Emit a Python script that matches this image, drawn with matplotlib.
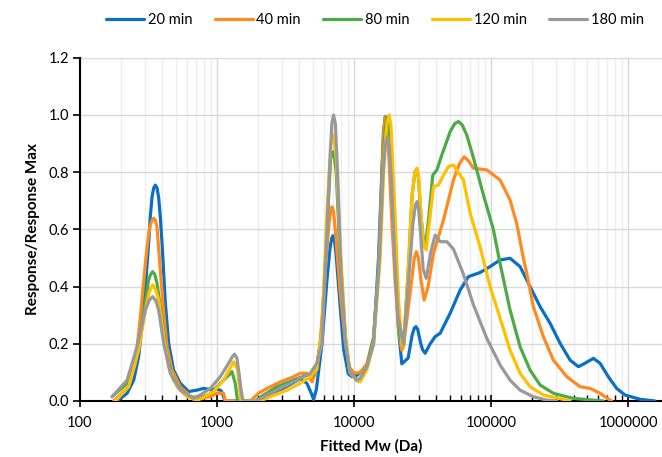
import numpy as np
import matplotlib
matplotlib.use("Agg")
import matplotlib.pyplot as plt
from matplotlib.ticker import LogLocator, FixedLocator, NullFormatter, FixedFormatter

# ---- data: log10(Fitted Mw, Da) and normalised response ----
series_names = ["20 min", "40 min", "80 min", "120 min", "180 min"]
series_colors = ["#0B6FC6", "#FF8A1F", "#4EA947", "#FFC000", "#999999"]

logmw_20 = [2.271, 2.344, 2.392, 2.428, 2.465, 2.501, 2.513, 2.526, 2.538, 2.550, 2.562, 2.574, 2.586,
            2.599, 2.623, 2.647, 2.683, 2.732, 2.793, 2.854, 2.902, 2.951, 3.000, 3.030, 3.048, 3.058,
            3.279, 3.365, 3.486, 3.608, 3.656, 3.690, 3.705, 3.725, 3.766, 3.802, 3.825, 3.838, 3.846,
            3.855, 3.868, 3.899, 3.925, 3.958, 3.985, 4.021, 4.094, 4.142, 4.179, 4.203, 4.215, 4.228,
            4.240, 4.252, 4.277, 4.300, 4.325, 4.349, 4.395, 4.424, 4.440, 4.452, 4.465, 4.485, 4.500,
            4.519, 4.556, 4.592, 4.629, 4.702, 4.775, 4.835, 4.920, 4.993, 5.066, 5.139, 5.212, 5.285,
            5.358, 5.431, 5.504, 5.577, 5.638, 5.686, 5.747, 5.796, 5.856, 5.917, 5.978, 6.087, 6.197]
resp_20 = [0.0, 0.027, 0.073, 0.155, 0.318, 0.551, 0.645, 0.714, 0.745, 0.755, 0.745, 0.712, 0.645,
           0.551, 0.342, 0.202, 0.108, 0.062, 0.033, 0.038, 0.044, 0.040, 0.042, 0.036, 0.015, 0.0,
           0.0, 0.020, 0.045, 0.078, 0.062, 0.025, 0.005, 0.040, 0.200, 0.420, 0.535, 0.570, 0.578,
           0.570, 0.520, 0.330, 0.180, 0.095, 0.085, 0.090, 0.120, 0.200, 0.500, 0.800, 0.940, 0.995,
           0.990, 0.930, 0.700, 0.480, 0.250, 0.130, 0.150, 0.230, 0.255, 0.260, 0.250, 0.205, 0.180,
           0.167, 0.200, 0.225, 0.237, 0.307, 0.388, 0.435, 0.449, 0.470, 0.493, 0.499, 0.470, 0.400,
           0.330, 0.272, 0.202, 0.143, 0.120, 0.132, 0.149, 0.132, 0.085, 0.044, 0.021, 0.006, 0.0]

logmw_40 = [2.246, 2.355, 2.404, 2.441, 2.477, 2.500, 2.513, 2.526, 2.538, 2.550, 2.562, 2.586, 2.611,
            2.635, 2.672, 2.732, 2.805, 2.878, 2.951, 3.000, 3.048, 3.061, 3.243, 3.303, 3.365, 3.462,
            3.559, 3.608, 3.656, 3.693, 3.717, 3.753, 3.790, 3.815, 3.830, 3.839, 3.850, 3.865, 3.899,
            3.938, 3.965, 4.000, 4.045, 4.094, 4.142, 4.179, 4.203, 4.215, 4.228, 4.240, 4.252, 4.277,
            4.300, 4.325, 4.349, 4.361, 4.410, 4.440, 4.455, 4.470, 4.490, 4.512, 4.541, 4.580, 4.653,
            4.726, 4.770, 4.804, 4.835, 4.872, 4.969, 5.066, 5.139, 5.188, 5.236, 5.261, 5.309, 5.382,
            5.455, 5.553, 5.650, 5.723, 5.796, 5.869, 5.881]
resp_40 = [0.0, 0.050, 0.132, 0.295, 0.481, 0.580, 0.615, 0.632, 0.639, 0.632, 0.609, 0.458, 0.307,
           0.190, 0.108, 0.050, 0.017, 0.009, 0.015, 0.027, 0.027, 0.0, 0.0, 0.027, 0.044, 0.067,
           0.085, 0.097, 0.097, 0.067, 0.097, 0.200, 0.450, 0.610, 0.665, 0.679, 0.665, 0.590, 0.380,
           0.200, 0.120, 0.097, 0.100, 0.130, 0.220, 0.450, 0.780, 0.930, 0.994, 0.965, 0.880, 0.620,
           0.420, 0.250, 0.178, 0.190, 0.380, 0.500, 0.522, 0.500, 0.420, 0.353, 0.400, 0.516, 0.633,
           0.773, 0.830, 0.854, 0.840, 0.814, 0.808, 0.773, 0.703, 0.620, 0.500, 0.446, 0.330, 0.225,
           0.143, 0.085, 0.050, 0.044, 0.027, 0.003, 0.0]

logmw_80 = [2.234, 2.344, 2.416, 2.465, 2.501, 2.515, 2.530, 2.545, 2.562, 2.599, 2.635, 2.683, 2.756,
            2.829, 2.878, 2.951, 3.024, 3.085, 3.109, 3.133, 3.150, 3.279, 3.340, 3.438, 3.559, 3.656,
            3.705, 3.729, 3.766, 3.802, 3.830, 3.851, 3.870, 3.899, 3.938, 3.970, 4.021, 4.045, 4.094,
            4.142, 4.185, 4.210, 4.228, 4.240, 4.252, 4.262, 4.286, 4.310, 4.335, 4.361, 4.395, 4.424,
            4.445, 4.458, 4.470, 4.490, 4.508, 4.522, 4.545, 4.575, 4.605, 4.641, 4.702, 4.735, 4.762,
            4.790, 4.823, 4.872, 4.945, 5.017, 5.066, 5.139, 5.212, 5.285, 5.358, 5.455, 5.601, 5.820]
resp_80 = [0.015, 0.062, 0.155, 0.307, 0.423, 0.443, 0.452, 0.443, 0.412, 0.283, 0.155, 0.073, 0.027,
           0.009, 0.010, 0.025, 0.062, 0.090, 0.103, 0.062, 0.0, 0.0, 0.021, 0.050, 0.073, 0.091,
           0.091, 0.120, 0.250, 0.600, 0.850, 0.872, 0.800, 0.500, 0.220, 0.100, 0.075, 0.072, 0.120,
           0.220, 0.500, 0.800, 0.950, 0.990, 0.960, 0.880, 0.650, 0.400, 0.220, 0.190, 0.450, 0.720,
           0.800, 0.812, 0.780, 0.640, 0.560, 0.540, 0.640, 0.790, 0.808, 0.860, 0.942, 0.970, 0.977,
           0.965, 0.930, 0.850, 0.720, 0.600, 0.481, 0.318, 0.190, 0.108, 0.056, 0.027, 0.009, 0.0]

logmw_120 = [2.258, 2.355, 2.428, 2.477, 2.505, 2.530, 2.552, 2.574, 2.611, 2.647, 2.708, 2.781, 2.854,
             2.902, 2.975, 3.048, 3.121, 3.150, 3.163, 3.175, 3.316, 3.389, 3.511, 3.608, 3.681, 3.729,
             3.766, 3.802, 3.830, 3.851, 3.870, 3.899, 3.938, 3.970, 4.021, 4.045, 4.094, 4.142, 4.191,
             4.220, 4.240, 4.257, 4.270, 4.285, 4.300, 4.325, 4.349, 4.361, 4.395, 4.424, 4.445, 4.459,
             4.472, 4.490, 4.508, 4.527, 4.556, 4.580, 4.616, 4.653, 4.690, 4.726, 4.760, 4.799, 4.848,
             4.920, 4.993, 5.066, 5.139, 5.212, 5.285, 5.382, 5.553, 5.577]
resp_120 = [0.0, 0.050, 0.178, 0.318, 0.380, 0.406, 0.390, 0.353, 0.225, 0.120, 0.050, 0.015, 0.002,
            0.012, 0.033, 0.073, 0.137, 0.110, 0.050, 0.0, 0.0, 0.015, 0.038, 0.062, 0.085, 0.110,
            0.250, 0.650, 0.900, 0.930, 0.850, 0.550, 0.220, 0.100, 0.070, 0.067, 0.110, 0.200, 0.500,
            0.850, 0.970, 1.000, 0.960, 0.800, 0.650, 0.350, 0.200, 0.190, 0.450, 0.720, 0.800, 0.814,
            0.780, 0.640, 0.545, 0.528, 0.650, 0.750, 0.755, 0.790, 0.820, 0.825, 0.800, 0.773, 0.656,
            0.540, 0.400, 0.290, 0.178, 0.097, 0.050, 0.021, 0.003, 0.0]

logmw_180 = [2.234, 2.344, 2.416, 2.477, 2.505, 2.530, 2.552, 2.574, 2.611, 2.659, 2.732, 2.829, 2.878,
             2.951, 3.024, 3.085, 3.112, 3.128, 3.145, 3.160, 3.175, 3.190, 3.292, 3.365, 3.486, 3.608,
             3.681, 3.729, 3.766, 3.790, 3.821, 3.838, 3.851, 3.864, 3.880, 3.905, 3.938, 3.970, 4.021,
             4.045, 4.094, 4.142, 4.185, 4.210, 4.230, 4.244, 4.258, 4.275, 4.295, 4.320, 4.361, 4.395,
             4.430, 4.448, 4.460, 4.472, 4.490, 4.505, 4.527, 4.560, 4.592, 4.629, 4.678, 4.726, 4.799,
             4.872, 4.969, 5.066, 5.139, 5.212, 5.309, 5.407, 5.480]
resp_180 = [0.015, 0.073, 0.190, 0.318, 0.352, 0.365, 0.352, 0.318, 0.202, 0.097, 0.038, 0.009, 0.021,
            0.044, 0.085, 0.132, 0.155, 0.164, 0.150, 0.100, 0.040, 0.0, 0.0, 0.021, 0.050, 0.079,
            0.097, 0.132, 0.200, 0.450, 0.800, 0.970, 1.000, 0.970, 0.800, 0.450, 0.200, 0.100, 0.073,
            0.080, 0.120, 0.200, 0.500, 0.780, 0.900, 0.924, 0.890, 0.750, 0.520, 0.300, 0.196, 0.400,
            0.620, 0.685, 0.697, 0.670, 0.560, 0.460, 0.429, 0.520, 0.580, 0.557, 0.557, 0.531, 0.443,
            0.336, 0.219, 0.126, 0.073, 0.038, 0.015, 0.003, 0.0]

series_logmw = [logmw_20, logmw_40, logmw_80, logmw_120, logmw_180]
series_resp = [resp_20, resp_40, resp_80, resp_120, resp_180]

x_tick_values = [100, 1000, 10000, 100000, 1000000]
x_tick_labels = ["100", "1000", "10000", "100000", "1000000"]
y_tick_values = [0.0, 0.2, 0.4, 0.6, 0.8, 1.0, 1.2]

# ---- figure ----
plt.rcParams['font.family'] = ['Lato', 'DejaVu Sans']
W, H = 662, 457
fig = plt.figure(figsize=(W / 100, H / 100), dpi=100)
ax = fig.add_axes([80 / W, 1 - 401 / H, 1 - 80 / W, (401 - 57.8) / H])

for lm, r, name, c in zip(series_logmw, series_resp, series_names, series_colors):
    ax.plot(10 ** np.array(lm), r, color=c, lw=2.3, label=name,
            solid_joinstyle='round', solid_capstyle='round', zorder=3)

ax.set_xscale('log')
ax.set_xlim(100, 1.77e6)
ax.set_ylim(0, 1.2)

ax.xaxis.set_major_locator(FixedLocator(x_tick_values))
ax.xaxis.set_major_formatter(FixedFormatter(x_tick_labels))
ax.xaxis.set_minor_locator(LogLocator(base=10, subs=np.arange(2, 10), numticks=20))
ax.xaxis.set_minor_formatter(NullFormatter())
ax.set_yticks(y_tick_values)
ax.set_yticklabels([f"{v:.1f}" for v in y_tick_values])

ax.grid(which='major', axis='both', color='#D9D9D9', lw=1.0, zorder=0)
ax.grid(which='minor', axis='x', color='#EEEEEE', lw=1.0, zorder=0)
ax.set_axisbelow(True)

for s in ['top', 'right']:
    ax.spines[s].set_visible(False)
for s in ['left', 'bottom']:
    ax.spines[s].set_color('black')
    ax.spines[s].set_linewidth(1.5)

ax.tick_params(axis='x', which='major', direction='inout', length=8, width=1.2, labelsize=10.5,
               pad=7, colors='black')
ax.tick_params(axis='x', which='minor', direction='in', length=4, width=1.0)
ax.tick_params(axis='y', which='major', direction='out', length=5, width=1.2, labelsize=10.5, pad=3)

ax.set_xlabel("Fitted Mw (Da)", fontsize=11, fontweight='bold', labelpad=6)
ax.set_ylabel("Response/Response Max", fontsize=11, fontweight='bold', labelpad=6)

leg = fig.legend(loc='center', bbox_to_anchor=(375 / W, 1 - 20 / H), ncol=5, frameon=False,
                 fontsize=10.5, handlelength=2.6, handletextpad=0.25, columnspacing=1.55)

fig.savefig("out.png", dpi=100)
